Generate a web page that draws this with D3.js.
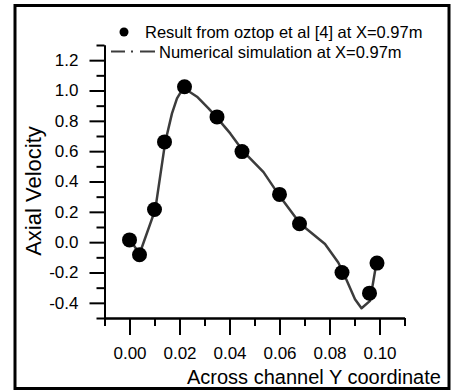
<!DOCTYPE html>
<html>
<head>
<meta charset="utf-8">
<script src="https://cdn.jsdelivr.net/npm/d3@7"></script>
<style>
  body { margin: 0; background: #fff; }
  svg text { font-family: "Liberation Sans", Arial, sans-serif; fill: #000; }
</style>
</head>
<body>
<div id="chart"></div>
<script>
'use strict'

// measured points (Oztop et al)
const expY = [0.000, 0.004, 0.010, 0.014, 0.022, 0.035, 0.045, 0.060, 0.068, 0.085, 0.096, 0.099]
const expU = [0.015, -0.083, 0.215, 0.661, 1.025, 0.826, 0.597, 0.315, 0.121, -0.200, -0.336, -0.138]

// numerical simulation curve
const simY = [0.0003, 0.004, 0.0103, 0.0143, 0.017, 0.019, 0.021, 0.0223, 0.027, 0.0316, 0.0347, 0.0403,
    0.0455, 0.0536, 0.0596, 0.0683, 0.0782, 0.0835, 0.0855, 0.0902, 0.0928, 0.0962, 0.0988]
const simU = [0.015, -0.078, 0.215, 0.661, 0.849, 0.948, 1.003, 1.010, 0.959, 0.882, 0.826, 0.717,
    0.599, 0.462, 0.315, 0.121, -0.012, -0.134, -0.200, -0.376, -0.436, -0.387, -0.134]

// tick labels
const xTicks = [0, 0.02, 0.04, 0.06, 0.08, 0.10]
const xMinor = [-0.01, 0.01, 0.03, 0.05, 0.07, 0.09, 0.11]
const yTicks = [-0.4, -0.2, 0, 0.2, 0.4, 0.6, 0.8, 1.0, 1.2]
const yMinor = [-0.5, -0.3, -0.1, 0.1, 0.3, 0.5, 0.7, 0.9, 1.1, 1.3]

const legendLabels = ['Result from oztop et al [4] at X=0.97m', 'Numerical simulation at X=0.97m']

const svgWidth = 456
const svgHeight = 391

const svg = d3.select('#chart')
    .append('svg')
    .attr('width', svgWidth)
    .attr('height', svgHeight)

// scales
const xScale = d3.scaleLinear()
    .domain([-0.01, 0.11])
    .range([104.5, 404.5])

const yScale = d3.scaleLinear()
    .domain([-0.5, 1.3])
    .range([318, 45])

////////////////////////////////////
///////////////axis/////////////////
////////////////////////////////////

function styleAxis(g) {
    g.selectAll('path, line').attr('stroke', '#000').attr('stroke-width', 2)
    g.selectAll('text').attr('font-size', 17).attr('font-family', '"Liberation Sans", Arial, sans-serif')
}

// minor ticks
svg.append('g')
    .attr('transform', 'translate(0,318)')
    .call(d3.axisBottom(xScale).tickValues(xMinor).tickSize(8).tickSizeOuter(0).tickFormat(''))
    .call(styleAxis)

svg.append('g')
    .attr('transform', 'translate(104.5,0)')
    .call(d3.axisLeft(yScale).tickValues(yMinor).tickSize(8).tickSizeOuter(0).tickFormat(''))
    .call(styleAxis)

// major ticks
svg.append('g')
    .attr('transform', 'translate(0,318)')
    .call(d3.axisBottom(xScale).tickValues(xTicks).tickSize(17).tickPadding(12).tickSizeOuter(0)
        .tickFormat(d => d.toFixed(2)))
    .call(styleAxis)

svg.append('g')
    .attr('transform', 'translate(104.5,0)')
    .call(d3.axisLeft(yScale).tickValues(yTicks).tickSize(15).tickPadding(11).tickSizeOuter(0)
        .tickFormat(d => d.toFixed(1)))
    .call(styleAxis)

// axis titles
svg.append('text')
    .attr('x', 187)
    .attr('y', 384)
    .attr('font-size', 20)
    .text('Across channel Y coordinate')

svg.append('text')
    .attr('transform', 'translate(41,191) rotate(-90)')
    .attr('text-anchor', 'middle')
    .attr('font-size', 22)
    .text('Axial Velocity')

// simulation line
const simData = simY.map((v, i) => ({ y: v, u: simU[i] }))
const line = d3.line()
    .x(d => xScale(d.y))
    .y(d => yScale(d.u))

svg.append('path')
    .datum(simData)
    .attr('d', line)
    .attr('fill', 'none')
    .attr('stroke', '#3c3c3c')
    .attr('stroke-width', 2.5)
    .attr('stroke-linejoin', 'round')

// experiment points
const expData = expY.map((v, i) => ({ y: v, u: expU[i] }))
svg.selectAll('.exp')
    .data(expData)
    .join('circle')
    .attr('class', 'exp')
    .attr('cx', d => xScale(d.y))
    .attr('cy', d => yScale(d.u))
    .attr('r', 7.5)
    .attr('fill', '#000')

// legend
svg.append('circle')
    .attr('cx', 124)
    .attr('cy', 32)
    .attr('r', 4.5)
    .attr('fill', '#000')
svg.append('text')
    .attr('x', 145)
    .attr('y', 37.5)
    .attr('font-size', 16.5)
    .text(legendLabels[0])

svg.append('line')
    .attr('x1', 111).attr('x2', 156)
    .attr('y1', 51.5).attr('y2', 51.5)
    .attr('stroke', '#3c3c3c')
    .attr('stroke-width', 2)
    .attr('stroke-dasharray', '14,6,2,7,15')
svg.append('text')
    .attr('x', 159)
    .attr('y', 57.5)
    .attr('font-size', 16.5)
    .text(legendLabels[1])

// outer frame
svg.append('rect')
    .attr('x', 15)
    .attr('y', 5.5)
    .attr('width', 434)
    .attr('height', 383)
    .attr('fill', 'none')
    .attr('stroke', '#000')
    .attr('stroke-width', 3)
</script>
</body>
</html>
